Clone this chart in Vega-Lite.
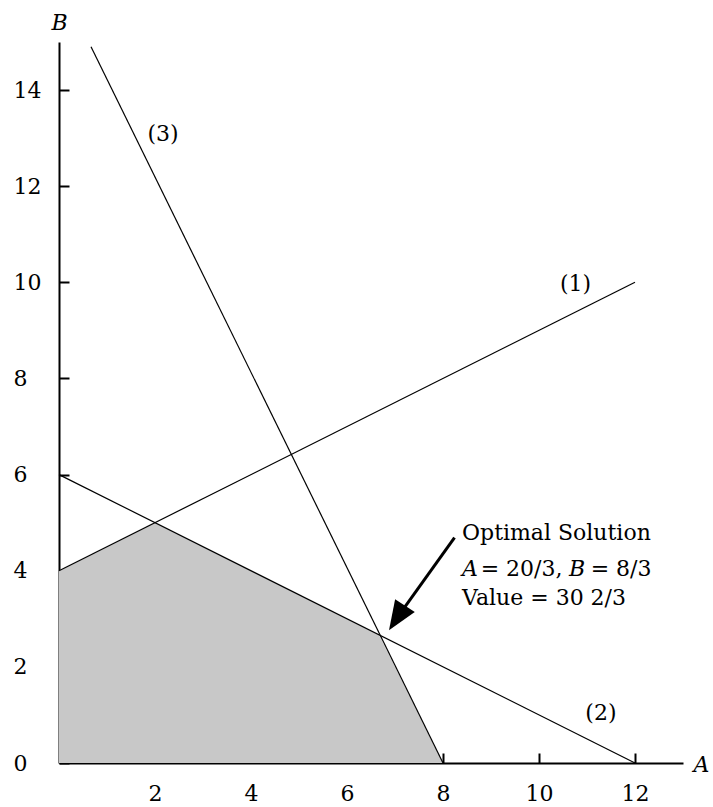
{
  "$schema": "https://vega.github.io/schema/vega-lite/v6.json",
  "autosize": "none",
  "width": 624,
  "height": 721,
  "padding": {"left": 59, "top": 42, "right": 30, "bottom": 44},
  "background": "white",
  "config": {
    "view": {"stroke": null},
    "font": "DejaVu Serif",
    "axis": {
      "grid": false,
      "domainColor": "black",
      "domainWidth": 2,
      "tickColor": "black",
      "tickWidth": 2,
      "tickSize": -10,
      "labelFont": "DejaVu Serif",
      "labelFontSize": 22,
      "labelColor": "black",
      "titleFont": "DejaVu Serif",
      "titleFontSize": 22,
      "titleFontStyle": "italic",
      "titleFontWeight": "normal",
      "titleColor": "black"
    },
    "text": {"font": "DejaVu Serif", "fontSize": 22, "color": "black", "baseline": "alphabetic"}
  },
  "datasets": {
    "region": [
      {"A": 0, "B": 4},
      {"A": 2, "B": 5},
      {"A": 6.667, "B": 2.667},
      {"A": 8, "B": 0}
    ],
    "lines": [
      {"id": "1", "ord": 0, "A": 0, "B": 4},
      {"id": "1", "ord": 1, "A": 12, "B": 10},
      {"id": "2", "ord": 0, "A": 0, "B": 6},
      {"id": "2", "ord": 1, "A": 12, "B": 0},
      {"id": "3", "ord": 0, "A": 0.667, "B": 14.9},
      {"id": "3", "ord": 1, "A": 8, "B": 0}
    ],
    "labels": [
      {"A": 2.167, "B": 12.93, "text": "(3)"},
      {"A": 10.76, "B": 9.83, "text": "(1)"},
      {"A": 11.29, "B": 0.885, "text": "(2)"}
    ],
    "note": [
      {"A": 8.396, "B": 4.639, "text": "Optimal Solution"},
      {"A": 8.785, "B": 3.896, "text": "= 20/3,"},
      {"A": 11.077, "B": 3.896, "text": "= 8/3"},
      {"A": 8.396, "B": 3.287, "text": "Value = 30 2/3"}
    ],
    "noteItalic": [
      {"A": 8.396, "B": 3.896, "text": "A"},
      {"A": 10.625, "B": 3.896, "text": "B"}
    ],
    "shaft": [
      {"ord": 0, "A": 8.24, "B": 4.69},
      {"ord": 1, "A": 7.02, "B": 2.99}
    ],
    "tip": [
      {"A": 6.875, "B": 2.761}
    ]
  },
  "layer": [
    {
      "data": {"name": "region"},
      "mark": {"type": "area", "color": "#c8c8c8", "opacity": 1},
      "encoding": {
        "x": {"field": "A", "type": "quantitative", "scale": {"domain": [0, 13], "nice": false, "zero": false},
              "axis": {"values": [2, 4, 6, 8, 10, 12], "title": "A", "labelBaseline": "alphabetic", "labelPadding": 47,
                       "titleX": 634, "titleY": 8, "titleAlign": "left", "titleBaseline": "alphabetic", "titleAnchor": null}},
        "y": {"field": "B", "type": "quantitative", "scale": {"domain": [0, 15], "nice": false, "zero": false},
              "axis": {"values": [0, 2, 4, 6, 8, 10, 12, 14], "title": "B", "titleAngle": 0, "labelAlign": "left", "labelBaseline": "middle", "labelPadding": 56,
                       "titleX": 0, "titleY": -13, "titleAlign": "center", "titleBaseline": "alphabetic", "titleAnchor": null}}
      }
    },
    {
      "data": {"name": "lines"},
      "mark": {"type": "line", "color": "black", "strokeWidth": 1.2},
      "encoding": {
        "x": {"field": "A", "type": "quantitative"},
        "y": {"field": "B", "type": "quantitative"},
        "detail": {"field": "id"},
        "order": {"field": "ord", "type": "quantitative"}
      }
    },
    {
      "data": {"name": "labels"},
      "mark": {"type": "text", "align": "center"},
      "encoding": {
        "x": {"field": "A", "type": "quantitative"},
        "y": {"field": "B", "type": "quantitative"},
        "text": {"field": "text"}
      }
    },
    {
      "data": {"name": "note"},
      "mark": {"type": "text", "align": "left"},
      "encoding": {
        "x": {"field": "A", "type": "quantitative"},
        "y": {"field": "B", "type": "quantitative"},
        "text": {"field": "text"}
      }
    },
    {
      "data": {"name": "noteItalic"},
      "mark": {"type": "text", "align": "left", "fontStyle": "italic"},
      "encoding": {
        "x": {"field": "A", "type": "quantitative"},
        "y": {"field": "B", "type": "quantitative"},
        "text": {"field": "text"}
      }
    },
    {
      "data": {"name": "shaft"},
      "mark": {"type": "line", "color": "black", "strokeWidth": 3},
      "encoding": {
        "x": {"field": "A", "type": "quantitative"},
        "y": {"field": "B", "type": "quantitative"},
        "order": {"field": "ord", "type": "quantitative"}
      }
    },
    {
      "data": {"name": "tip"},
      "mark": {"type": "point", "shape": "M0,0L-0.4,1L0.4,1Z", "filled": true, "color": "black", "opacity": 1, "size": 3434, "angle": 213, "strokeWidth": 0},
      "encoding": {
        "x": {"field": "A", "type": "quantitative"},
        "y": {"field": "B", "type": "quantitative"}
      }
    }
  ]
}
